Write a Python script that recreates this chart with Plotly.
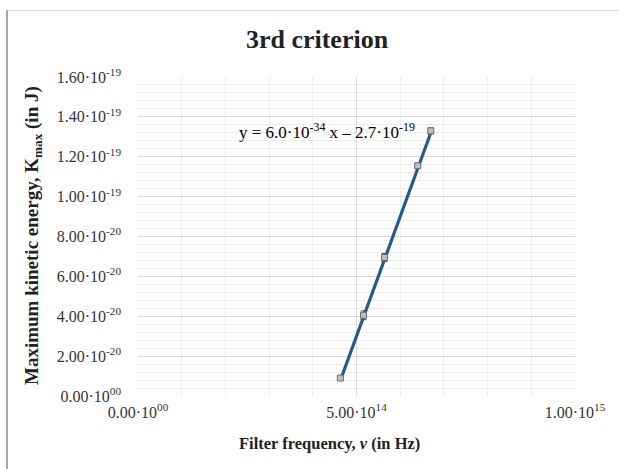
import plotly.graph_objects as go

# Measured points: filter frequency (Hz) and maximum kinetic energy (J)
frequency = [4.63e14, 5.16e14, 5.64e14, 6.40e14, 6.70e14]
k_max = [0.90e-20, 4.05e-20, 6.95e-20, 11.55e-20, 13.30e-20]
k_err = [0.10e-20, 0.22e-20, 0.20e-20, 0.12e-20, 0.15e-20]

# Linear trendline as reported in the label
slope = 6.0e-34
intercept = -2.7e-19

x_ticks = [0, 5e14, 1e15]
x_tick_text = ["0.00·10<sup>00</sup>", "5.00·10<sup>14</sup>", "1.00·10<sup>15</sup>"]
y_ticks = [i * 2e-20 for i in range(9)]
y_tick_text = ["0.00·10<sup>00</sup>", "2.00·10<sup>-20</sup>", "4.00·10<sup>-20</sup>",
               "6.00·10<sup>-20</sup>", "8.00·10<sup>-20</sup>", "1.00·10<sup>-19</sup>",
               "1.20·10<sup>-19</sup>", "1.40·10<sup>-19</sup>", "1.60·10<sup>-19</sup>"]

FONT = "Liberation Serif"
W, H = 619, 469
ML, MR, MT, MB = 138, 44, 77, 73
PW, PH = W - ML - MR, H - MT - MB


def px_x(p):
    """Pixel column -> paper x."""
    return (p - ML) / PW


def px_y(p):
    """Pixel row -> paper y."""
    return (H - MB - p) / PH


fig = go.Figure()

fit_x = [min(frequency), max(frequency)]
fig.add_trace(go.Scatter(
    x=fit_x, y=[slope * v + intercept for v in fit_x], mode="lines",
    line=dict(color="#245a8c", width=3.2), hoverinfo="skip", showlegend=False))

fig.add_trace(go.Scatter(
    x=frequency, y=k_max, mode="markers",
    marker=dict(symbol="square", size=6, color="#b4c2d0",
                line=dict(color="#6b6b6b", width=1)),
    error_y=dict(type="data", array=k_err, color="#555555", thickness=1, width=3),
    showlegend=False))

# trendline equation
fig.add_annotation(
    x=px_x(327), y=px_y(131), xref="paper", yref="paper", showarrow=False,
    xanchor="center", yanchor="middle",
    text="y = 6.0·10<sup>-34</sup> x – 2.7·10<sup>-19</sup>",
    font=dict(family=FONT, size=17, color="#000000"))

# axis titles
fig.add_annotation(
    x=px_x(329), y=px_y(443), xref="paper", yref="paper", showarrow=False,
    xanchor="center", yanchor="middle",
    text="<b>Filter frequency, <i>v</i> (in Hz)</b>",
    font=dict(family=FONT, size=16.5, color="#222222"))
fig.add_annotation(
    x=px_x(33), y=px_y(236), xref="paper", yref="paper", showarrow=False,
    xanchor="center", yanchor="middle", textangle=-90,
    text="<b>Maximum kinetic energy, K<sub>max</sub> (in J)</b>",
    font=dict(family=FONT, size=19, color="#222222"))

# chart-area frame (top and left edges)
fig.add_shape(type="line", xref="paper", yref="paper",
              x0=px_x(7), x1=px_x(619), y0=px_y(10.5), y1=px_y(10.5),
              line=dict(color="#d9d9d9", width=1))
fig.add_shape(type="line", xref="paper", yref="paper",
              x0=px_x(7), x1=px_x(7), y0=px_y(10), y1=px_y(469),
              line=dict(color="#8c8c8c", width=1.5))

fig.update_layout(
    width=W, height=H,
    margin=dict(l=ML, r=MR, t=MT, b=MB),
    paper_bgcolor="white", plot_bgcolor="white",
    font=dict(family=FONT, color="#222222"),
    title=dict(text="<b>3rd criterion</b>", x=317 / W, xref="container",
               xanchor="center", y=1 - 39 / H, yref="container", yanchor="middle",
               font=dict(family=FONT, size=26, color="#222222")),
    xaxis=dict(range=[0, 1e15], tickvals=x_ticks, ticktext=x_tick_text,
               showgrid=True, gridcolor="#d9d9d9", gridwidth=1,
               minor=dict(dtick=1e14, showgrid=True, gridcolor="#ededed", gridwidth=1),
               zeroline=False, showline=False, ticks="", ticklabelstandoff=5,
               tickfont=dict(family=FONT, size=16, color="#333333")),
    yaxis=dict(range=[0, 1.6e-19], tickvals=y_ticks, ticktext=y_tick_text,
               showgrid=True, gridcolor="#d9d9d9", gridwidth=1,
               minor=dict(dtick=0.4e-20, showgrid=True, gridcolor="#ededed", gridwidth=1),
               zeroline=False, showline=False, ticks="", ticklabelstandoff=16,
               tickfont=dict(family=FONT, size=16, color="#333333")),
)

fig.write_html("out.html")
